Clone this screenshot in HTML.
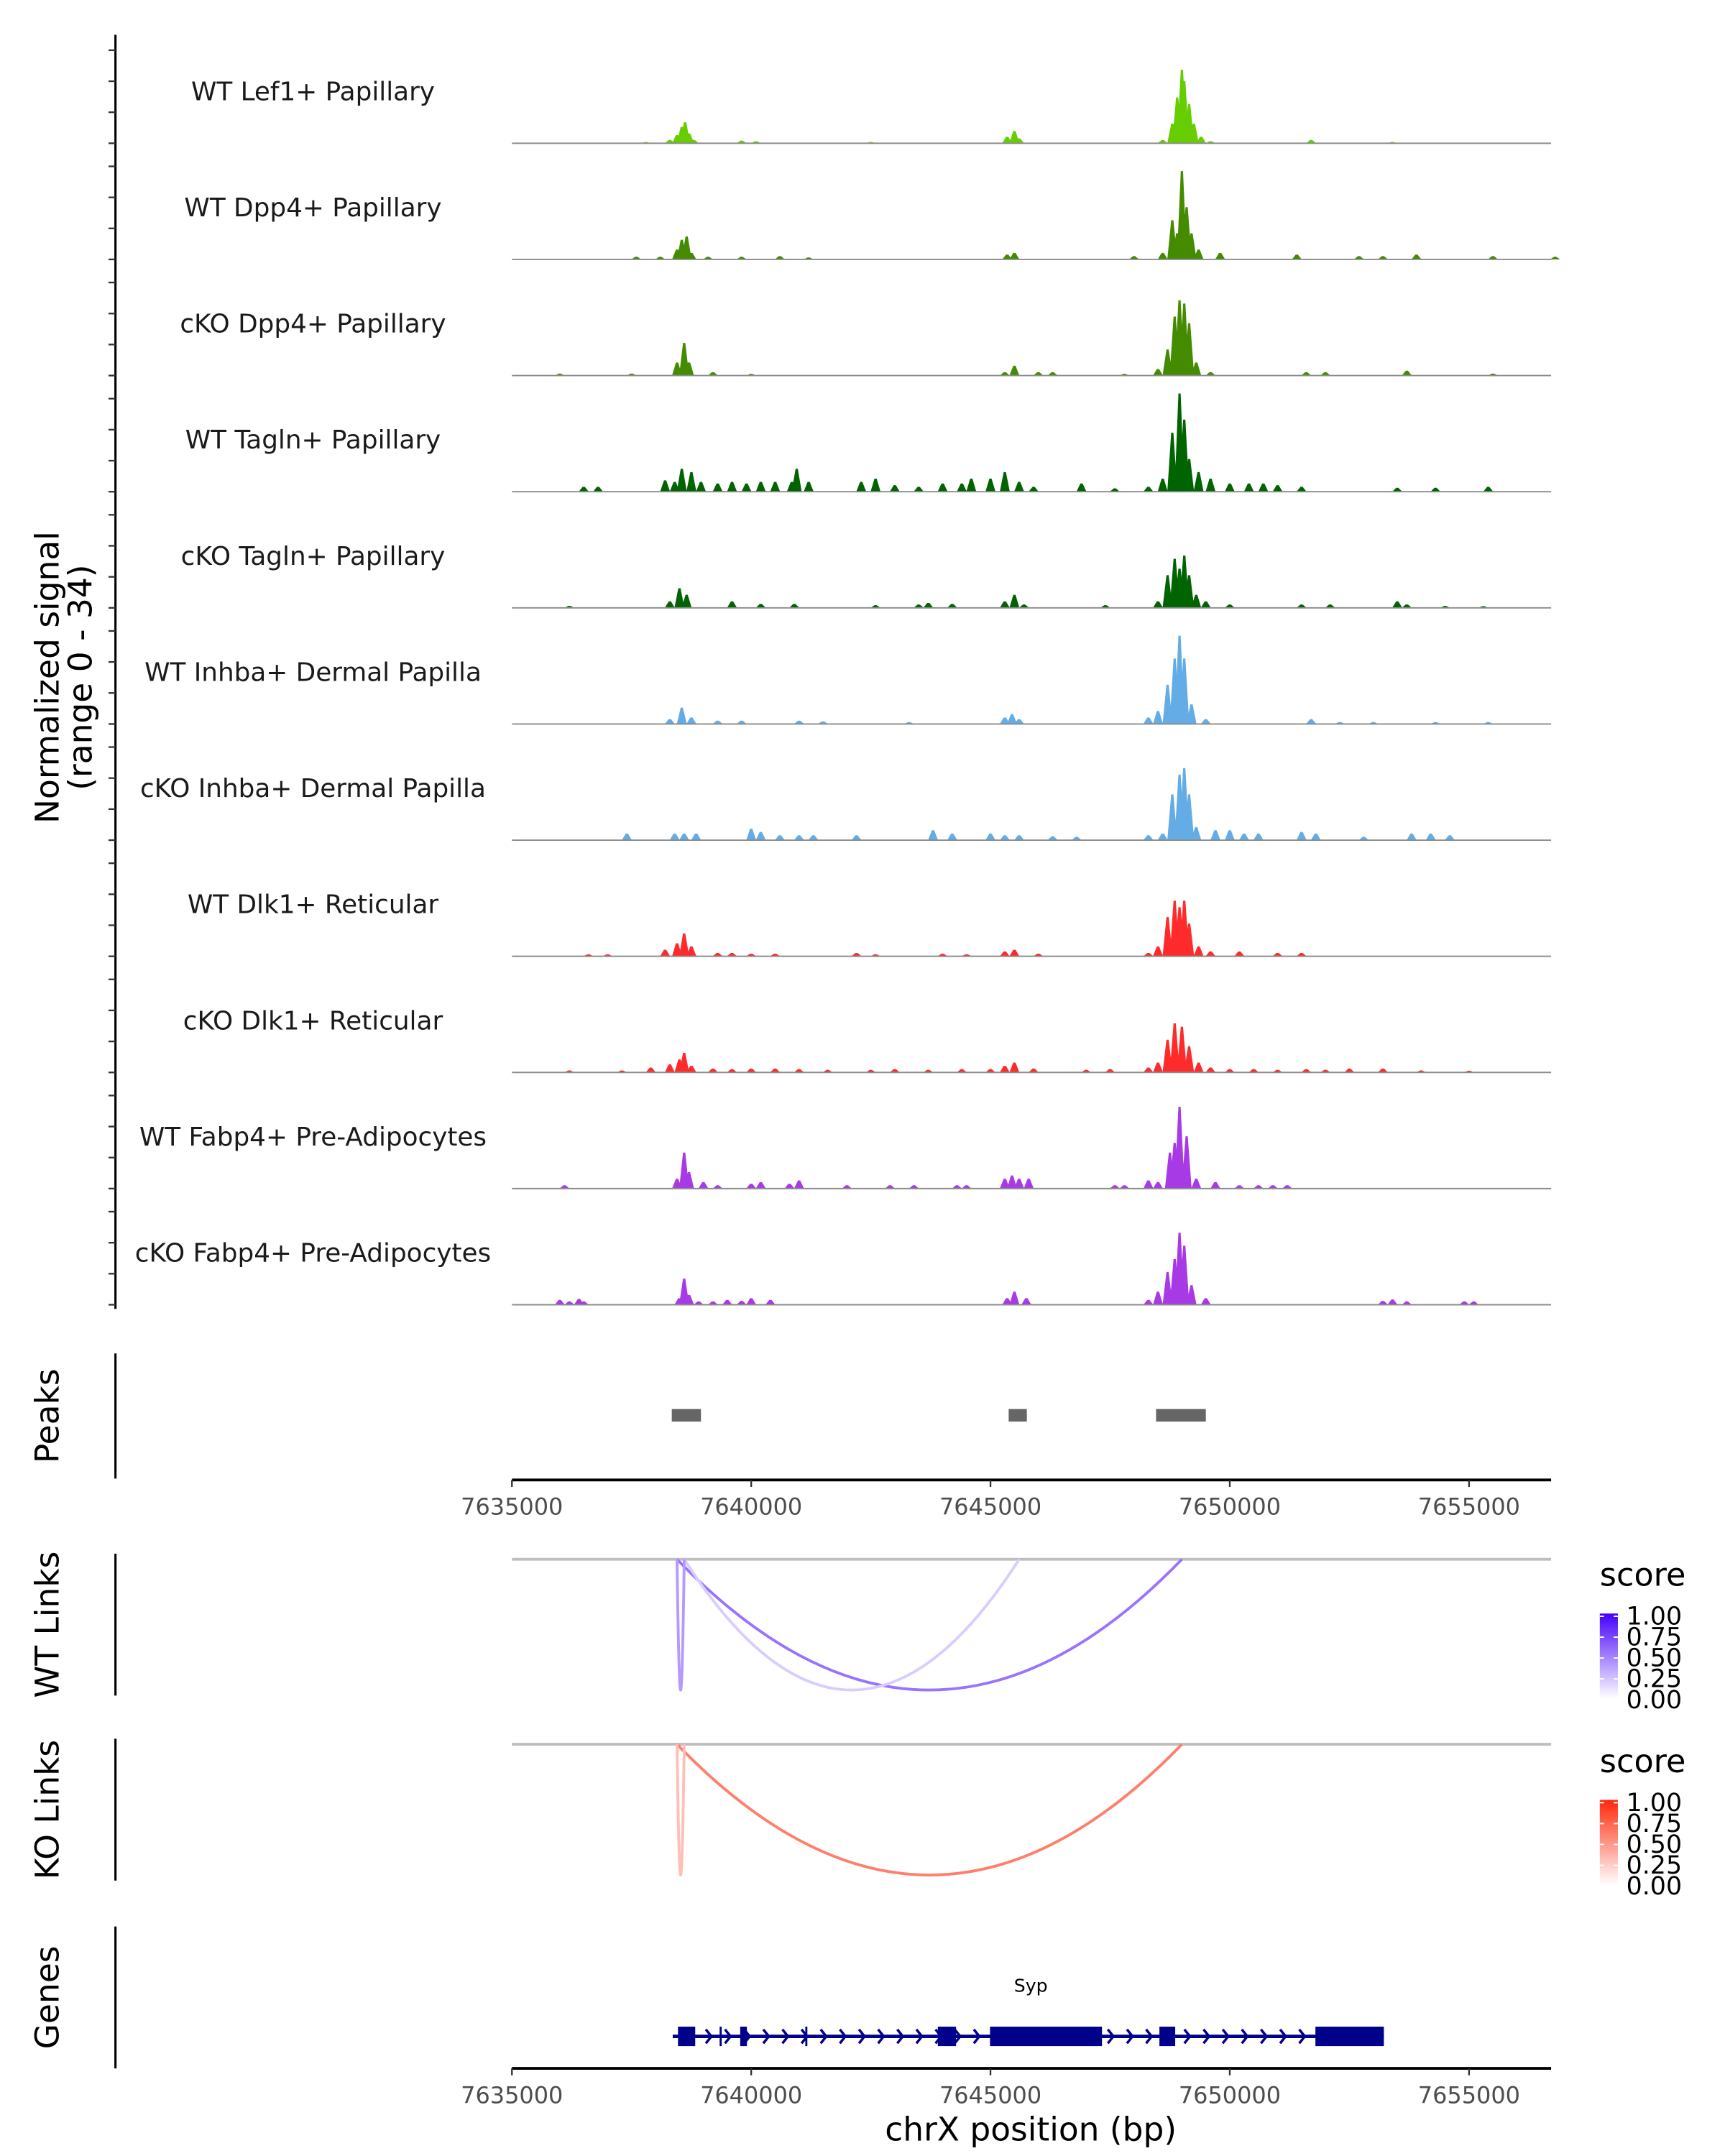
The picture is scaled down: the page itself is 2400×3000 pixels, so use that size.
<!DOCTYPE html>
<html><head><meta charset="utf-8"><style>
html,body{margin:0;padding:0;background:#fff}
svg{display:block;font-family:"DejaVu Sans","Liberation Sans",sans-serif}
</style></head><body>
<svg id="chart" width="2400" height="3000" viewBox="0 0 1240 1550" xmlns="http://www.w3.org/2000/svg">
<rect width="1240" height="1550" fill="#fff"/>
<g id="tracks"></g>
<g font-size="23.5" fill="#000" text-anchor="middle">
<text transform="translate(42,487) rotate(-90)">Normalized signal</text>
<text transform="translate(66,487) rotate(-90)">(range 0 - 34)</text>
</g>
<g id="peaks"></g>
<g id="links"></g>
<g id="genes"></g>
</svg>
<script>
const trackNames = ["WT Lef1+ Papillary","WT Dpp4+ Papillary","cKO Dpp4+ Papillary","WT Tagln+ Papillary","cKO Tagln+ Papillary","WT Inhba+ Dermal Papilla","cKO Inhba+ Dermal Papilla","WT Dlk1+ Reticular","cKO Dlk1+ Reticular","WT Fabp4+ Pre-Adipocytes","cKO Fabp4+ Pre-Adipocytes"];
const trackColors = ["#66CD00","#458B00","#458B00","#006400","#006400","#63ACE5","#63ACE5","#FF2A2A","#FF2A2A","#A83AE6","#A83AE6"];
// [kb offset from 7635000, signal value]
const sigWTLef1 = [[2.8,.4],[3.3,1],[3.45,2.5],[3.55,5],[3.62,6.4],[3.7,3],[3.8,1],[4.8,.8],[5.1,.6],[7.5,.4],[10.35,2],[10.5,3.8],[10.6,1.5],[13.6,1],[13.8,6],[13.9,14],[14.0,22.5],[14.05,19],[14.15,12],[14.25,6],[14.4,2],[14.6,.6],[16.7,1],[18.4,.4]];
const sigWTDpp4 = [[2.6,.8],[3.1,.8],[3.45,3],[3.55,6],[3.65,7],[3.75,2],[4.1,.8],[4.8,.8],[5.6,1],[6.2,.6],[10.35,1.5],[10.5,2],[13.0,1],[13.6,2],[13.8,12],[13.9,8],[14.0,27],[14.1,16],[14.2,8],[14.35,3],[14.8,2],[16.4,1.5],[17.7,1],[18.2,1],[18.9,1.5],[20.5,1],[21.8,.8]];
const sigKODpp4 = [[1.0,.6],[2.5,.6],[3.45,4],[3.6,10],[3.7,4],[4.2,1],[5.0,.5],[10.3,1],[10.5,3],[11.0,1],[11.3,1],[12.8,.5],[13.5,2],[13.7,8],[13.85,18],[13.95,23],[14.05,22],[14.15,16],[14.3,4],[14.6,1],[16.6,1],[17.0,1],[18.7,1.5],[20.5,.6]];
const sigWTTagln = [[1.5,1.5],[1.8,1.5],[3.2,3.5],[3.4,3],[3.55,7],[3.75,6],[3.95,3],[4.3,2.5],[4.6,3],[4.9,2.5],[5.2,3],[5.5,3],[5.85,3],[5.95,7],[6.2,3],[7.3,3],[7.6,4],[8.0,2],[8.5,1.5],[9.0,2.5],[9.4,2.5],[9.6,4],[10.0,4],[10.3,6],[10.6,3],[10.9,1.5],[11.9,2.5],[12.6,1],[13.3,1.5],[13.6,4],[13.8,18],[13.95,30],[14.05,22],[14.15,10],[14.35,6],[14.6,4],[15.0,2.5],[15.4,2.5],[15.7,2.5],[16.0,2],[16.5,1.5],[18.5,1.2],[19.3,1.2],[20.4,1.5]];
const sigKOTagln = [[1.2,.6],[3.3,2],[3.5,6],[3.65,4],[4.6,2],[5.2,1.2],[5.9,1.2],[7.6,.8],[8.5,1],[8.7,1.5],[9.2,1.2],[10.3,2],[10.5,4],[10.7,1],[12.4,.8],[13.5,2],[13.7,10],[13.85,15],[13.95,12],[14.05,16],[14.15,10],[14.3,4],[14.5,2],[15.0,1],[16.5,1],[17.1,1],[18.5,2],[18.7,1],[19.5,.6],[20.3,.5]];
const sigWTInhba = [[3.3,1.5],[3.55,5],[3.75,2],[4.3,1],[4.8,1],[6.0,1],[6.5,.8],[8.3,.6],[10.3,2],[10.45,3],[10.6,1.5],[13.3,2],[13.5,4],[13.7,12],[13.85,20],[13.95,27],[14.05,20],[14.2,6],[14.5,1.5],[16.7,1.5],[17.3,.6],[18.0,.6],[19.3,.6],[20.4,.6]];
const sigKOInhba = [[2.4,2],[3.4,2],[3.6,2],[3.85,2],[5.0,3.5],[5.2,2.5],[5.6,1.5],[6.0,1.5],[6.3,1.5],[7.2,1.5],[8.8,3],[9.2,2],[10.0,2],[10.3,1.5],[10.6,1.5],[11.3,1.2],[11.8,1],[13.3,1.5],[13.6,2],[13.8,14],[13.95,20],[14.05,22],[14.15,14],[14.3,4],[14.7,3],[15.0,3],[15.3,2],[15.6,2],[16.5,2.5],[16.8,2],[17.8,1],[18.8,2],[19.2,2],[19.6,1.5]];
const sigWTDlk1 = [[1.6,.6],[2.0,.6],[3.2,2],[3.45,4],[3.6,7],[3.75,3],[4.3,1],[4.6,1],[5.0,.8],[5.5,.8],[7.2,1],[7.6,.6],[9.0,.8],[9.5,.6],[10.3,1.5],[10.5,2],[11.0,.8],[13.3,1],[13.5,3],[13.7,12],[13.85,17],[13.95,15],[14.05,17],[14.15,10],[14.35,3],[14.6,1.5],[15.2,1.5],[16.0,1],[16.5,1]];
const sigKODlk1 = [[1.2,.6],[2.3,.6],[2.9,1.5],[3.3,2.5],[3.5,4],[3.6,6],[3.75,2],[4.2,1.2],[4.6,1],[5.0,1.2],[5.5,1.2],[6.0,1],[6.6,.8],[7.5,.8],[8.0,1],[8.7,.8],[9.4,1],[10.0,1],[10.3,2],[10.5,3],[10.9,1.2],[12.0,.8],[12.5,1],[13.3,1.5],[13.5,3],[13.7,10],[13.85,15],[14.0,14],[14.15,8],[14.35,3],[14.6,1.5],[15.0,1],[15.5,1],[16.0,.8],[16.6,1],[17.0,.8],[17.5,1.2],[18.2,1.2],[19.0,.6],[20.0,.5]];
const sigWTFabp4 = [[1.1,1],[3.45,3],[3.6,11],[3.7,5],[4.0,2],[4.3,1],[5.0,1.5],[5.2,2],[5.8,1.5],[6.0,2.5],[7.0,1],[7.9,1],[8.4,1],[9.3,1],[9.5,1],[10.3,3],[10.45,4],[10.6,3],[10.8,3],[12.6,1],[12.8,1],[13.3,2.5],[13.5,2],[13.75,11],[13.85,14],[13.95,25],[14.1,16],[14.3,3],[14.7,2],[15.2,1],[15.6,1],[15.9,1],[16.2,1]];
const sigKOFabp4 = [[1.0,1.5],[1.2,1],[1.4,1.8],[1.5,1],[3.5,2],[3.6,8],[3.7,3],[3.9,1],[4.2,1],[4.5,1.5],[4.8,1.2],[5.0,2],[5.4,1.5],[10.35,2],[10.5,4],[10.75,2],[13.3,1.5],[13.5,4],[13.7,10],[13.85,14],[13.95,22],[14.05,18],[14.2,6],[14.5,2],[18.2,1.2],[18.4,1.6],[18.7,1],[19.9,1],[20.1,1]];
const signals = [sigWTLef1,sigWTDpp4,sigKODpp4,sigWTTagln,sigKOTagln,sigWTInhba,sigKOInhba,sigWTDlk1,sigKODlk1,sigWTFabp4,sigKOFabp4];
const xTicks = [7635000,7640000,7645000,7650000,7655000];
const peakStarts = [3.34,10.38,13.46];
const peakEnds = [3.95,10.76,14.5];
const wtLinkStart = [3.45,3.6,3.45];
const wtLinkEnd = [14.0,10.6,3.6];
const wtLinkScore = [0.55,0.2,0.4];
const koLinkStart = [3.45,3.45];
const koLinkEnd = [14.0,3.6];
const koLinkScore = [0.6,0.3];
const legendTicks = ["1.00","0.75","0.50","0.25","0.00"];
const exonStart = [3.47,4.34,4.77,6.13,8.9,9.99,13.53,16.79];
const exonEnd = [3.83,4.38,4.91,6.17,9.28,12.33,13.86,18.22];
const geneStart = 3.36, geneEnd = 18.22;

const NS="http://www.w3.org/2000/svg";
const X0=368, PXKB=34.4, XR=1115, MAXV=34, TH=80;
const xs = kb => X0 + kb*PXKB;
const xbp = bp => xs((bp-7635000)/1000);
function el(tag, attrs, parent){const e=document.createElementNS(NS,tag);for(const k in attrs)e.setAttribute(k,attrs[k]);parent.appendChild(e);return e;}

const tg=document.getElementById('tracks');
el('line',{x1:83,y1:25,x2:83,y2:941,stroke:'#000','stroke-width':1.6},tg);
trackNames.forEach((name,i)=>{
  const b=103+i*83.5;
  const g=el('g',{},tg);
  
  
  for(let t=0;t<4;t++){const tk=el('line',{x1:78,x2:83,y1:b-t*22.3,y2:b-t*22.3,stroke:'#333','stroke-width':1.2},g);
    }
  const lab=el('text',{x:225,y:b-31,'text-anchor':'middle','font-size':18.5,fill:'#1a1a1a'},g);
  lab.textContent=name;
  
  let d='';
  signals[i].forEach(([kb,v])=>{const x=xs(kb),h=v/MAXV*TH;d+=`M${(x-3.6).toFixed(1)},${b}L${(x-0.8).toFixed(1)},${(b-h).toFixed(1)}L${(x+0.8).toFixed(1)},${(b-h).toFixed(1)}L${(x+3.6).toFixed(1)},${b}Z`;});
  const p=el('path',{d:d,fill:trackColors[i]},g);
  
  const bl=el('line',{x1:368,x2:XR,y1:b,y2:b,stroke:'#8c8c8c','stroke-width':1},g);
  
});

function xAxis(parent,y){
  const ax=el('line',{x1:368,x2:XR,y1:y,y2:y,stroke:'#000','stroke-width':2},parent);
  
  xTicks.forEach(v=>{const x=xbp(v);
    const t=el('line',{x1:x,x2:x,y1:y,y2:y+5,stroke:'#333','stroke-width':1.2},parent);
    
    const l=el('text',{x:x,y:y+25,'text-anchor':'middle','font-size':16.5,fill:'#4d4d4d'},parent);
    l.textContent=String(v);
    });
}
function sideLabel(parent,text,y1,y2){
  const a=el('line',{x1:83,x2:83,y1:y1,y2:y2,stroke:'#000','stroke-width':1.6},parent);
  
  const t=el('text',{transform:`translate(42,${(y1+y2)/2}) rotate(-90)`,'text-anchor':'middle','font-size':23.5,fill:'#000'},parent);
  t.textContent=text;
  
}
const pg=document.getElementById('peaks');
sideLabel(pg,'Peaks',973,1063);
peakStarts.forEach((s,i)=>{const r=el('rect',{x:xs(s),y:1013,width:xs(peakEnds[i])-xs(s),height:9,fill:'#666'},pg);
  });
xAxis(pg,1064);

const lg=document.getElementById('links');
function linkPanel(title,top,bot,starts,ends,scores,rgb,legendY,gid){
  sideLabel(lg,title,top-4,bot+4);
  const base=el('line',{x1:368,x2:XR,y1:top,y2:top,stroke:'#bebebe','stroke-width':2},lg);
  
  starts.forEach((s,i)=>{const a=xs(s),c=xs(ends[i]),sc=scores[i];
    const col=`rgb(${Math.round(255-(255-rgb[0])*sc)},${Math.round(255-(255-rgb[1])*sc)},${Math.round(255-(255-rgb[2])*sc)})`;
    const cy=top+2*(bot-top);
    const p=el('path',{d:`M${a},${top}Q${(a+c)/2},${cy} ${c},${top}`,fill:'none',stroke:col,'stroke-width':2},lg);
    });
  const t=el('text',{x:1150,y:legendY,'font-size':23,fill:'#000'},lg);
  t.textContent='score';
  
  const grad=el('linearGradient',{id:gid,x1:0,y1:0,x2:0,y2:1},lg);
  el('stop',{offset:0,'stop-color':`rgb(${rgb.join(',')})`},grad);
  el('stop',{offset:1,'stop-color':'#fff'},grad);
  const cb=el('rect',{x:1150,y:legendY+20,width:13,height:61,fill:`url(#${gid})`},lg);
  
  legendTicks.forEach((v,k)=>{const yy=legendY+22+k*15;
    const tl=el('text',{x:1169,y:yy+6,'font-size':18,fill:'#000'},lg);
    tl.textContent=v;
    
    el('line',{x1:1150,x2:1153,y1:yy,y2:yy,stroke:'#fff'},lg);el('line',{x1:1160,x2:1163,y1:yy,y2:yy,stroke:'#fff'},lg);});
}
linkPanel('WT Links',1121,1215,wtLinkStart,wtLinkEnd,wtLinkScore,[70,0,255],1140,'gw');
linkPanel('KO Links',1254,1348,koLinkStart,koLinkEnd,koLinkScore,[255,40,10],1274,'gk');

const gg=document.getElementById('genes');
sideLabel(gg,'Genes',1385,1487);
const syp=el('text',{x:741,y:1432,'text-anchor':'middle','font-size':13,fill:'#000'},gg);
syp.textContent='Syp';

const gl=el('line',{x1:xs(geneStart),x2:xs(geneEnd),y1:1464,y2:1464,stroke:'#00008B','stroke-width':2.5},gg);

for(let kb=geneStart+0.35;kb<geneEnd-0.2;kb+=0.4){const x=xs(kb);
  const ch=el('path',{d:`M${x-2},${1459}L${x+2},${1464}L${x-2},${1469}`,fill:'none',stroke:'#00008B','stroke-width':1.8},gg);
  }
exonStart.forEach((s,i)=>{const r=el('rect',{x:xs(s),y:1457,width:Math.max(1.5,xs(exonEnd[i])-xs(s)),height:14,fill:'#00008B'},gg);
  });
xAxis(gg,1487);
const xt=el('text',{x:741,y:1539,'text-anchor':'middle','font-size':23.5,fill:'#000'},gg);
xt.textContent='chrX position (bp)';

</script>
</body></html>
